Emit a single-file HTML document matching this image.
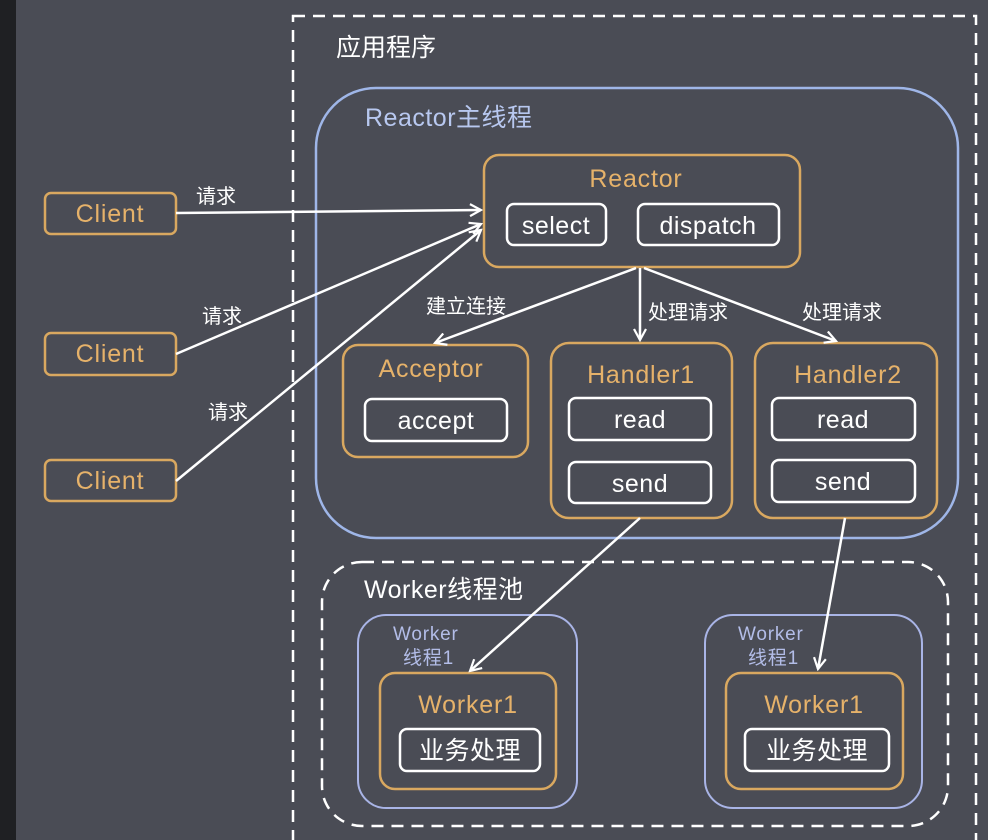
<!DOCTYPE html>
<html><head><meta charset="utf-8"><style>
html,body{margin:0;padding:0;background:#4a4c55;}
svg{display:block;font-family:"Liberation Sans","Noto Sans CJK SC",sans-serif;}
</style></head><body>
<svg width="988" height="840" viewBox="0 0 988 840" xmlns="http://www.w3.org/2000/svg">
<defs>
<marker id="a" markerWidth="14" markerHeight="14" refX="12" refY="7" orient="auto" markerUnits="userSpaceOnUse">
<path d="M1,1 L12,7 L1,13" fill="none" stroke="#fff" stroke-width="2.2"/>
</marker>
</defs>
<rect width="988" height="840" fill="#4a4c55"/>
<rect x="0" y="0" width="16" height="840" fill="#1f2023"/>
<rect x="293" y="16" width="683" height="840" fill="none" stroke="#fff" stroke-width="2.5" stroke-dasharray="12,8"/>
<text x="336" y="56" font-size="25" fill="#fff">应用程序</text>
<rect x="316" y="88" width="642" height="450" rx="60" fill="none" stroke="#9fb6e8" stroke-width="2.5"/>
<text x="365" y="126" font-size="25" letter-spacing="0.5" fill="#b8c8f0">Reactor主线程</text>
<g fill="none" stroke="#d9a860" stroke-width="2.5">
<rect x="484" y="155" width="316" height="112" rx="15"/>
<rect x="45" y="193" width="131" height="41" rx="6"/>
<rect x="45" y="333" width="131" height="42" rx="6"/>
<rect x="45" y="460" width="131" height="41" rx="6"/>
<rect x="343" y="345" width="185" height="112" rx="15"/>
<rect x="551" y="343" width="181" height="175" rx="18"/>
<rect x="755" y="343" width="182" height="175" rx="18"/>
<rect x="380" y="673" width="176" height="116" rx="15"/>
<rect x="726" y="673" width="177" height="116" rx="15"/>
</g>
<g fill="none" stroke="#fff" stroke-width="2.5">
<rect x="507" y="204" width="99" height="41" rx="7"/>
<rect x="638" y="204" width="141" height="41" rx="7"/>
<rect x="365" y="399" width="142" height="42" rx="7"/>
<rect x="569" y="398" width="142" height="42" rx="7"/>
<rect x="569" y="462" width="142" height="41" rx="7"/>
<rect x="772" y="398" width="143" height="42" rx="7"/>
<rect x="772" y="460" width="143" height="42" rx="7"/>
<rect x="400" y="729" width="140" height="42" rx="7"/>
<rect x="745" y="729" width="144" height="42" rx="7"/>
</g>
<rect x="322" y="562" width="626" height="264" rx="40" fill="none" stroke="#fff" stroke-width="2.5" stroke-dasharray="12,8"/>
<text x="364" y="598" font-size="25" letter-spacing="0.5" fill="#fff">Worker线程池</text>
<rect x="358" y="615" width="219" height="193" rx="28" fill="none" stroke="#a9b4e6" stroke-width="2"/>
<rect x="705" y="615" width="217" height="193" rx="28" fill="none" stroke="#a9b4e6" stroke-width="2"/>
<g font-size="19" fill="#b3bde8" letter-spacing="0.8">
<text x="393" y="640">Worker</text><text x="403" y="664">线程1</text>
<text x="738" y="640">Worker</text><text x="748" y="664">线程1</text>
</g>
<g font-size="25" fill="#e6b26a" text-anchor="middle" letter-spacing="0.8">
<text x="110" y="222">Client</text>
<text x="110" y="362">Client</text>
<text x="110" y="489">Client</text>
<text x="636" y="187">Reactor</text>
<text x="431" y="377">Acceptor</text>
<text x="641" y="383">Handler1</text>
<text x="848" y="383">Handler2</text>
<text x="468" y="713">Worker1</text>
<text x="814" y="713">Worker1</text>
</g>
<g font-size="25" fill="#fff" text-anchor="middle" letter-spacing="0.5">
<text x="556" y="234">select</text>
<text x="708" y="234">dispatch</text>
<text x="436" y="429">accept</text>
<text x="640" y="428">read</text>
<text x="640" y="492">send</text>
<text x="843" y="428">read</text>
<text x="843" y="490">send</text>
<text x="470" y="759">业务处理</text>
<text x="817" y="759">业务处理</text>
</g>
<g font-size="20" fill="#fff">
<text x="196" y="203">请求</text>
<text x="202" y="323">请求</text>
<text x="208" y="419">请求</text>
<text x="426" y="313">建立连接</text>
<text x="648" y="319">处理请求</text>
<text x="802" y="319">处理请求</text>
</g>
<g stroke="#fff" stroke-width="2.5" fill="none" marker-end="url(#a)">
<line x1="176" y1="213" x2="481" y2="210"/>
<line x1="176" y1="354" x2="481" y2="224"/>
<line x1="176" y1="481" x2="481" y2="230"/>
<line x1="636" y1="268" x2="435" y2="343"/>
<line x1="640" y1="268" x2="640" y2="340"/>
<line x1="644" y1="268" x2="836" y2="341"/>
<line x1="640" y1="518" x2="470" y2="671"/>
<line x1="845" y1="518" x2="818" y2="669"/>
</g>
</svg>
</body></html>
